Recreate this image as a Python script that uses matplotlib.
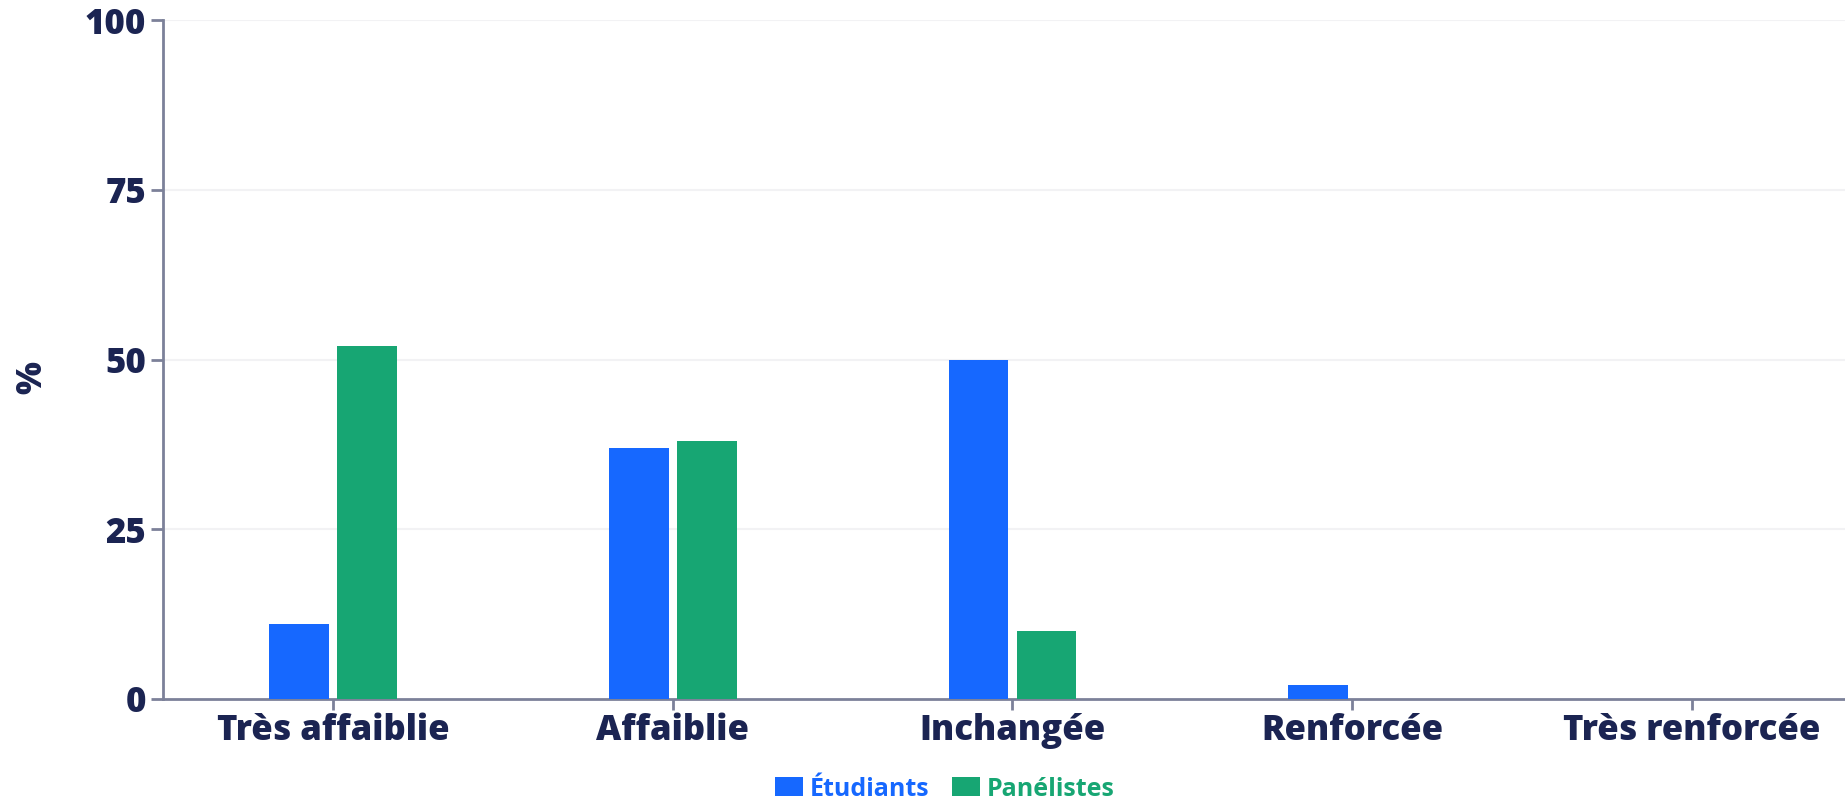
import matplotlib.pyplot as plt
import numpy as np

categories = ["Très affaiblie", "Affaiblie", "Inchangée", "Renforcée", "Très renforcée"]
etudiants = [11, 37, 50, 2, 0]
panelistes = [52, 38, 10, 0, 0]
series_names = ["Étudiants", "Panélistes"]
yticks = [0, 25, 50, 75, 100]

blue = "#1668FF"
green = "#17A673"
navy = "#1B2452"
axis_gray = "#7C8199"

plt.rcParams['font.family'] = ['Open Sans', 'DejaVu Sans']

fig = plt.figure(figsize=(18.45, 8.01), dpi=100)
ax = fig.add_axes([163 / 1845, 1 - 699 / 801, 1 - 163 / 1845, (699 - 20) / 801])

x = np.arange(len(categories))
w = 0.176
ax.bar(x - 0.1, etudiants, width=w, color=blue, label=series_names[0], zorder=3)
ax.bar(x + 0.1, panelistes, width=w, color=green, label=series_names[1], zorder=3)

ax.set_xlim(-0.5, 4.45)
ax.set_ylim(0, 100)
ax.set_yticks(yticks)
ax.set_xticks(x)
ax.set_xticklabels(categories)

for y in yticks[1:]:
    ax.axhline(y, color="#F2F2F4", lw=1.5, zorder=0)

for side in ["top", "right"]:
    ax.spines[side].set_visible(False)
for side in ["left", "bottom"]:
    ax.spines[side].set_color(axis_gray)
    ax.spines[side].set_linewidth(2)

ax.tick_params(axis="y", colors=axis_gray, length=9, width=2, pad=3, labelsize=25, labelcolor=navy)
ax.tick_params(axis="x", colors=axis_gray, length=8, width=2, pad=2, labelsize=25, labelcolor=navy)
for lab in ax.get_xticklabels() + ax.get_yticklabels():
    lab.set_fontweight("heavy")

fig.text(32 / 1845, 1 - 378 / 801, "%", rotation=90, ha="center", va="center",
         fontsize=25, fontweight="heavy", color=navy)

leg = fig.legend(loc="center", bbox_to_anchor=(945 / 1845, 1 - 789 / 801), ncol=2, frameon=False,
                 fontsize=18, handlelength=1.1, handleheight=0.8, handletextpad=0.3,
                 columnspacing=0.9)
for t, c in zip(leg.get_texts(), [blue, green]):
    t.set_color(c)
    t.set_fontweight("bold")

fig.savefig("out.png", dpi=100)
